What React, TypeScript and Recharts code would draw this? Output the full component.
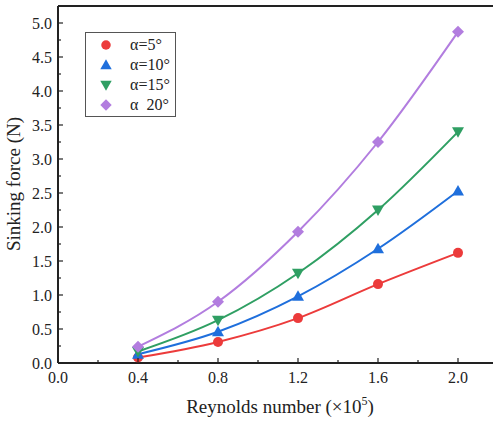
import React from "react";
import { LineChart, Line, XAxis, YAxis, Legend, ReferenceLine } from "recharts";

// Reynolds number (x10^5)
const reynolds = [0.4, 0.8, 1.2, 1.6, 2.0];

// sinking force (N) for each angle
const alpha5 = [0.08, 0.31, 0.66, 1.16, 1.62];
const alpha10 = [0.13, 0.46, 0.98, 1.68, 2.53];
const alpha15 = [0.17, 0.63, 1.32, 2.25, 3.4];
const alpha20 = [0.24, 0.9, 1.93, 3.25, 4.87];

const xTicks = [0, 0.2, 0.4, 0.6, 0.8, 1.0, 1.2, 1.4, 1.6, 1.8, 2.0];
const yTicks = [
  0, 0.25, 0.5, 0.75, 1.0, 1.25, 1.5, 1.75, 2.0, 2.25, 2.5, 2.75, 3.0, 3.25, 3.5,
  3.75, 4.0, 4.25, 4.5, 4.75, 5.0,
];

const seriesNames = ["α=5°", "α=10°", "α=15°", "α  20°"];
const seriesKeys = ["a5", "a10", "a15", "a20"];
const colors = ["#ec3b3b", "#1f6fdc", "#2f9f63", "#b27ddf"];
const shapes = ["circle", "up", "down", "diamond"];

const data = reynolds.map((re, i) => ({
  re,
  a5: alpha5[i],
  a10: alpha10[i],
  a15: alpha15[i],
  a20: alpha20[i],
}));

const W = 493;
const H = 421;
const LEFT = 58;
const BOTTOM = 58;
const TOP = 6;
const FONT = "'Liberation Serif', 'Times New Roman', serif";
const txt = { fontFamily: FONT };

const Marker = ({ cx, cy, shape, color, s = 1 }: any) => {
  if (cx == null || cy == null) return null;
  if (shape === "circle") return <circle cx={cx} cy={cy} r={5 * s} fill={color} />;
  if (shape === "up")
    return (
      <polygon
        points={`${cx},${cy - 6 * s} ${cx - 6 * s},${cy + 4.5 * s} ${cx + 6 * s},${cy + 4.5 * s}`}
        fill={color}
      />
    );
  if (shape === "down")
    return (
      <polygon
        points={`${cx},${cy + 6 * s} ${cx - 6 * s},${cy - 4.5 * s} ${cx + 6 * s},${cy - 4.5 * s}`}
        fill={color}
      />
    );
  return (
    <polygon
      points={`${cx},${cy - 6 * s} ${cx + 6 * s},${cy} ${cx},${cy + 6 * s} ${cx - 6 * s},${cy}`}
      fill={color}
    />
  );
};

const YTick = ({ payload }: any) => {
  const v = payload.value;
  const y = payload.coordinate;
  const major = Math.abs(v * 2 - Math.round(v * 2)) < 1e-6;
  return (
    <g>
      <line x1={LEFT} x2={LEFT + (major ? 5 : 3)} y1={y} y2={y} stroke="#222" strokeWidth={1.2} />
      {major && (
        <text x={LEFT - 6} y={y} dy={5.5} textAnchor="end" fontSize={16} style={txt} fill="#222">
          {v.toFixed(1)}
        </text>
      )}
    </g>
  );
};

const XTick = ({ payload }: any) => {
  const v = payload.value;
  const x = payload.coordinate;
  const axisY = H - BOTTOM;
  const major = Math.abs(v / 0.4 - Math.round(v / 0.4)) < 1e-6;
  return (
    <g>
      <line x1={x} x2={x} y1={axisY} y2={axisY - (major ? 5 : 3)} stroke="#222" strokeWidth={1.2} />
      {major && (
        <text x={x} y={axisY + 20} textAnchor="middle" fontSize={16} style={txt} fill="#222">
          {v.toFixed(1)}
        </text>
      )}
    </g>
  );
};

const LegendBox = () => (
  <div
    style={{
      border: "1px solid #555",
      background: "#fff",
      padding: "2px 5px 1px 12px",
      fontFamily: FONT,
      fontSize: 16,
      lineHeight: "20px",
      color: "#222",
    }}
  >
    {seriesNames.map((n, i) => (
      <div key={n} style={{ display: "flex", alignItems: "center", height: 20 }}>
        <svg width={16} height={16} style={{ marginRight: 16 }}>
          <Marker cx={8} cy={8} shape={shapes[i]} color={colors[i]} s={0.95} />
        </svg>
        <span style={{ whiteSpace: "pre", fontFamily: FONT }}>{n}</span>
      </div>
    ))}
  </div>
);

export default function App() {
  return (
    <div style={{ position: "absolute", left: 0, top: 0, background: "#fff", fontFamily: FONT }}>
      <LineChart width={W} height={H} data={data} margin={{ top: TOP, right: 0, bottom: 0, left: 0 }}>
        <XAxis
          dataKey="re"
          type="number"
          domain={[0, 2.175]}
          ticks={xTicks}
          interval={0}
          height={BOTTOM}
          tick={<XTick />}
          tickLine={false}
          axisLine={{ stroke: "#222", strokeWidth: 2 }}
          label={{
            content: () => (
              <text x={280} y={413} textAnchor="middle" fontSize={19} style={txt} fill="#222">
                Reynolds number (×10
                <tspan dy={-8} fontSize={12}>5</tspan>
                <tspan dy={8}>)</tspan>
              </text>
            ),
          }}
        />
        <YAxis
          type="number"
          domain={[0, 5.25]}
          ticks={yTicks}
          interval={0}
          width={LEFT}
          tick={<YTick />}
          tickLine={false}
          axisLine={{ stroke: "#222", strokeWidth: 2 }}
          label={{
            content: () => (
              <text
                x={20}
                y={184}
                textAnchor="middle"
                fontSize={19}
                style={txt}
                fill="#222"
                transform="rotate(-90 20 184)"
              >
                Sinking force (N)
              </text>
            ),
          }}
        />
        <ReferenceLine y={5.25} stroke="#222" strokeWidth={2} />
        <Legend
          layout="vertical"
          align="center"
          verticalAlign="middle"
          content={<LegendBox />}
          wrapperStyle={{ position: "absolute", left: 85, top: 32, width: "auto" }}
        />
        {seriesKeys.map((k, i) => (
          <Line
            key={k}
            dataKey={k}
            name={seriesNames[i]}
            type="monotone"
            stroke={colors[i]}
            strokeWidth={2}
            isAnimationActive={false}
            dot={(p: any) => <Marker key={`${k}-${p.index}`} cx={p.cx} cy={p.cy} shape={shapes[i]} color={colors[i]} />}
            activeDot={false}
          />
        ))}
      </LineChart>
    </div>
  );
}
